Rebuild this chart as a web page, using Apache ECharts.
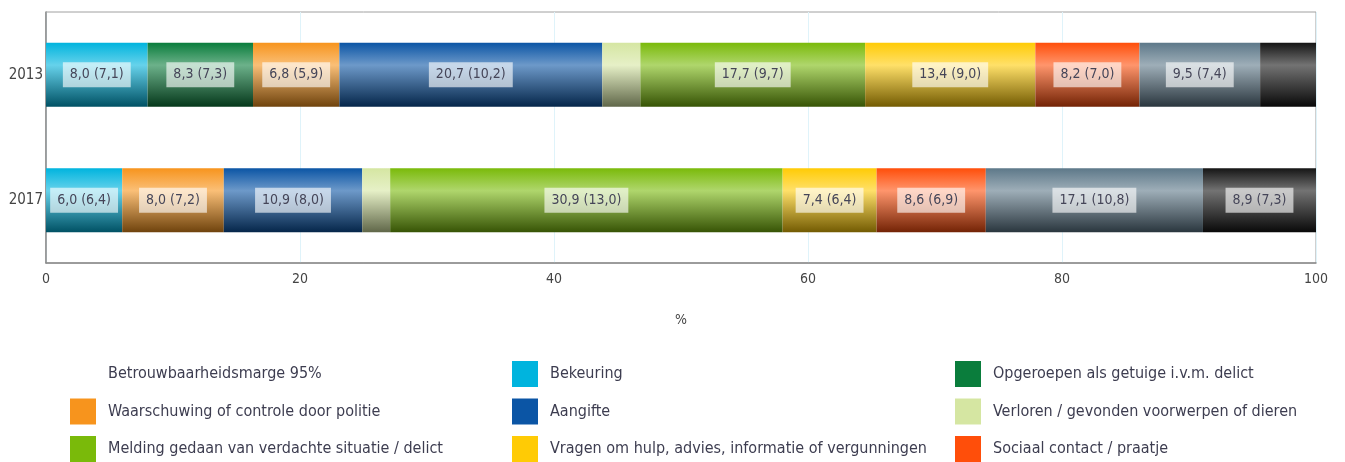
<!DOCTYPE html>
<html>
<head>
<meta charset="utf-8">
<script src="https://cdn.jsdelivr.net/npm/echarts@6/dist/echarts.min.js"></script>
<style>
  html, body { margin: 0; padding: 0; background: #fff; }
  #chart { width: 1345px; height: 462px; }
</style>
</head>
<body>
<div id="chart"></div>
<script>
// Contact met de politie: reden van het laatste contact (%), 2013 en 2017
const years = ['2013', '2017'];

const seriesNames = [
  'Bekeuring',
  'Opgeroepen als getuige i.v.m. delict',
  'Waarschuwing of controle door politie',
  'Aangifte',
  'Verloren / gevonden voorwerpen of dieren',
  'Melding gedaan van verdachte situatie / delict',
  'Vragen om hulp, advies, informatie of vergunningen',
  'Sociaal contact / praatje',
  'Anders',
  'Weet niet / geen antwoord'
];

// share per year (2013, 2017)
const bekeuring    = [8.0, 6.0];
const opgeroepen   = [8.3, null];
const waarschuwing = [6.8, 8.0];
const aangifte     = [20.7, 10.9];
const verloren     = [3.0, 2.2];
const melding      = [17.7, 30.9];
const vragen       = [13.4, 7.4];
const sociaal      = [8.2, 8.6];
const anders       = [9.5, 17.1];
const weetNiet     = [4.4, 8.9];

// 95% confidence margins (null = not labelled)
const margeBekeuring    = [7.1, 6.4];
const margeOpgeroepen   = [7.3, null];
const margeWaarschuwing = [5.9, 7.2];
const margeAangifte     = [10.2, 8.0];
const margeVerloren     = [null, null];
const margeMelding      = [9.7, 13.0];
const margeVragen       = [9.0, 6.4];
const margeSociaal      = [7.0, 6.9];
const margeAnders       = [7.4, 10.8];
const margeWeetNiet     = [null, 7.3];

const xTicks = [0, 20, 40, 60, 80, 100];
const margeLabel = 'Betrouwbaarheidsmarge 95%';

const values = [bekeuring, opgeroepen, waarschuwing, aangifte, verloren, melding, vragen, sociaal, anders, weetNiet];
const margins = [margeBekeuring, margeOpgeroepen, margeWaarschuwing, margeAangifte, margeVerloren, margeMelding, margeVragen, margeSociaal, margeAnders, margeWeetNiet];
const colors = ['#00b4de', '#0a7d3c', '#f7941d', '#0b55a5', '#d5e6a2', '#7aba0a', '#ffcb05', '#ff4e0a', '#5d7889', '#151515'];

const FONT = '"DejaVu Sans Condensed", "DejaVu Sans", sans-serif';

function hexToRgb(h) {
  const n = parseInt(h.slice(1), 16);
  return [(n >> 16) & 255, (n >> 8) & 255, n & 255];
}
function mix(h, target, t) {
  const c = hexToRgb(h);
  const r = c.map(v => Math.round(v + (target - v) * t));
  return 'rgb(' + r.join(',') + ')';
}
function glossy(h) {
  return new echarts.graphic.LinearGradient(0, 0, 0, 1, [
    { offset: 0, color: h },
    { offset: 0.35, color: mix(h, 255, 0.4) },
    { offset: 1, color: mix(h, 0, 0.55) }
  ]);
}
function nl(v) { return v.toFixed(1).replace('.', ','); }

const series = [{
  name: margeLabel,
  type: 'bar',
  stack: 'total',
  data: [],
  itemStyle: { color: '#ffffff' }
}];

seriesNames.forEach((name, i) => {
  series.push({
    name: name,
    type: 'bar',
    stack: 'total',
    barWidth: 64,
    itemStyle: { color: glossy(colors[i]) },
    emphasis: { disabled: true },
    data: values[i].map((v, j) => {
      const m = margins[i][j];
      return {
        value: v,
        label: {
          show: v != null && m != null,
          formatter: () => nl(v) + ' (' + nl(m) + ')'
        }
      };
    }),
    label: {
      position: 'inside',
      fontFamily: FONT,
      fontSize: 14,
      color: '#454558',
      backgroundColor: 'rgba(255,255,255,0.62)',
      padding: [6, 7, 5, 7]
    }
  });
});

// legend laid out in three columns, row by row
const colorOf = name => {
  const i = seriesNames.indexOf(name);
  return i < 0 ? '#ffffff' : colors[i];
};
const legendCols = [
  [margeLabel, seriesNames[2], seriesNames[5]],
  [seriesNames[0], seriesNames[3], seriesNames[6]],
  [seriesNames[1], seriesNames[4], seriesNames[7]]
];
const legendLeft = [70, 512, 955];

const chart = echarts.init(document.getElementById('chart'), null, { renderer: 'canvas' });
chart.setOption({
  animation: false,
  grid: {
    left: 46, right: 29, top: 12, bottom: 199,
    show: true, borderColor: '#a0a0a0', borderWidth: 1
  },
  xAxis: {
    type: 'value',
    min: xTicks[0],
    max: xTicks[xTicks.length - 1],
    interval: xTicks[1] - xTicks[0],
    name: '%',
    nameLocation: 'middle',
    nameGap: 50,
    nameTextStyle: { fontFamily: FONT, fontSize: 14, color: '#444' },
    axisLine: { show: true, lineStyle: { color: '#8a8a8a', width: 1.5 } },
    axisTick: { show: false },
    axisLabel: { fontFamily: FONT, fontSize: 14, color: '#444', margin: 9 },
    splitLine: { show: true, lineStyle: { color: '#dff3fa' } }
  },
  yAxis: {
    type: 'category',
    data: years,
    inverse: true,
    axisLine: { show: true, lineStyle: { color: '#8a8a8a', width: 1.5 } },
    axisTick: { show: false },
    axisLabel: { fontFamily: FONT, fontSize: 15, color: '#444', margin: 3 }
  },
  legend: legendCols.map((col, k) => ({
    orient: 'vertical',
    left: legendLeft[k],
    top: 361,
    height: 140,
    padding: 0,
    itemWidth: 26,
    itemHeight: 26,
    itemGap: 11.5,
    selectedMode: false,
    icon: 'rect',
    data: col.map(n => ({ name: n, itemStyle: { color: colorOf(n) } })),
    textStyle: { fontFamily: FONT, fontSize: 16, color: '#3d3d50', padding: [0, 0, 0, 7] }
  })),
  series: series
});
</script>
</body>
</html>
